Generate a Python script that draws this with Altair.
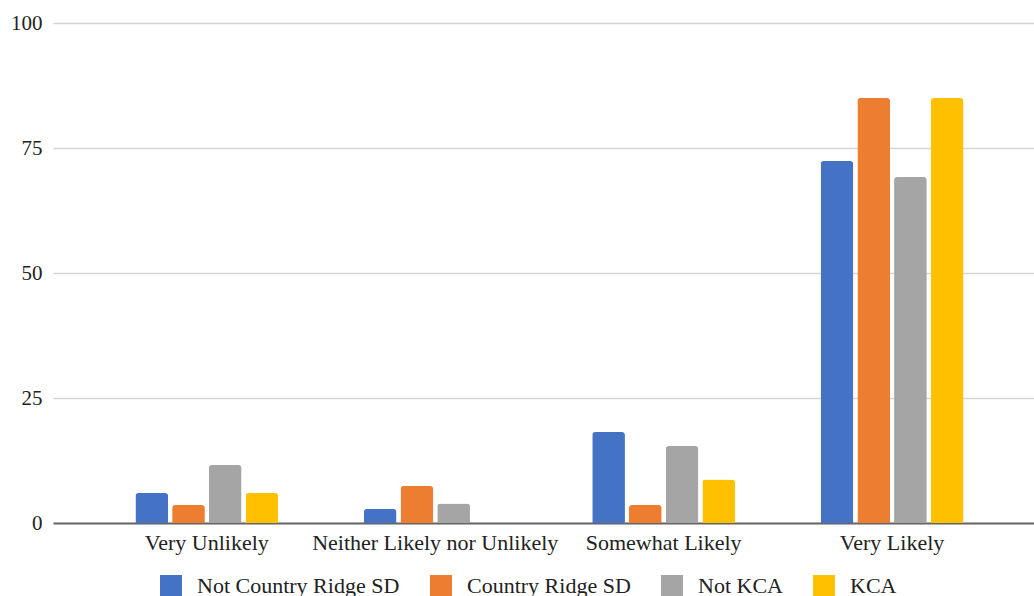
import altair as alt
import pandas as pd

# Survey responses by group (percent)
categories = ["Very Unlikely", "Neither Likely nor Unlikely", "Somewhat Likely", "Very Likely"]
groups = ["Not Country Ridge SD", "Country Ridge SD", "Not KCA", "KCA"]
not_country_ridge = [6.0, 2.8, 18.2, 72.4]
country_ridge = [3.6, 7.4, 3.6, 85.0]
not_kca = [11.6, 3.9, 15.4, 69.2]
kca = [6.0, 0.0, 8.7, 85.0]
colors = ["#4472C4", "#ED7D31", "#A5A5A5", "#FFC000"]
y_ticks = [0, 25, 50, 75, 100]

series = [not_country_ridge, country_ridge, not_kca, kca]
rows = []
for g, vals in zip(groups, series):
    for c, v in zip(categories, vals):
        rows.append({"category": c, "group": g, "value": v})
df = pd.DataFrame(rows)

FONT = "Liberation Serif"

bars = alt.Chart(df).mark_bar(
    cornerRadiusTopLeft=3, cornerRadiusTopRight=3
).encode(
    x=alt.X(
        "category:N",
        sort=categories,
        title=None,
        scale=alt.Scale(paddingInner=0.357, paddingOuter=0.326, align=0.54),
        axis=alt.Axis(
            labelAngle=0,
            labelFont=FONT,
            labelFontSize=22,
            labelColor="#222222",
            labelPadding=9,
            labelLimit=0,
            ticks=False,
            domainColor="#666666",
            domainWidth=2,
            grid=False,
        ),
    ),
    xOffset=alt.XOffset(
        "group:N",
        sort=groups,
        scale=alt.Scale(paddingInner=0.109, paddingOuter=0.0545),
    ),
    y=alt.Y(
        "value:Q",
        title=None,
        scale=alt.Scale(domain=[0, 100], nice=False),
        axis=alt.Axis(
            values=y_ticks,
            labelFont=FONT,
            labelFontSize=21,
            labelColor="#222222",
            labelPadding=11,
            ticks=False,
            domain=False,
            gridColor="#d4d4d4",
            gridWidth=1.5,
        ),
    ),
    color=alt.Color(
        "group:N",
        sort=groups,
        scale=alt.Scale(domain=groups, range=colors),
        legend=alt.Legend(
            title=None,
            orient="none",
            legendX=107,
            legendY=552,
            direction="horizontal",
            symbolType="square",
            symbolSize=484,
            symbolStrokeWidth=0,
            labelFont=FONT,
            labelFontSize=22,
            labelColor="#222222",
            labelOffset=15,
            labelLimit=0,
            columnPadding=30,
            padding=0,
        ),
    ),
)

chart = bars.properties(
    width=981,
    height=500,
    background="white",
    autosize=alt.AutoSizeParams(type="none"),
    padding={"left": 53, "top": 23, "right": 0, "bottom": 73},
).configure_view(stroke=None, strokeWidth=0)

chart.save("out.html", embed_options={"renderer": "svg", "actions": False})
